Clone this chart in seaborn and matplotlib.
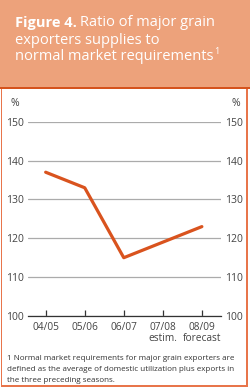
import matplotlib
matplotlib.use("Agg")
import matplotlib.pyplot as plt
import seaborn as sns
import pandas as pd
from matplotlib.patches import Rectangle

sns.set_theme(style="white")
plt.rcParams['font.family'] = ['Open Sans', 'DejaVu Sans']

seasons = ["04/05", "05/06", "06/07", "07/08\nestim.", "08/09\nforecast"]
ratio = [137, 133, 115, 119, 123]
yticks = [100, 110, 120, 130, 140, 150]

df = pd.DataFrame({"season": seasons, "ratio": ratio})

W, H = 250, 389
fig = plt.figure(figsize=(W / 100, H / 100), dpi=100)
fig.patch.set_facecolor("white")

def fy(py):
    return 1 - py / H

def fx(px):
    return px / W

# header
fig.patches.append(Rectangle((0, fy(86.7)), 1, 86.7 / H, transform=fig.transFigure,
                             facecolor="#EDA27B", edgecolor="none", zorder=0))
fig.patches.append(Rectangle((0, fy(89.3)), 1, 2.6 / H, transform=fig.transFigure,
                             facecolor="#D5531D", edgecolor="none", zorder=1))
# border
border = "#E8754B"
fig.patches.append(Rectangle((fx(0.5), fy(387)), 1.6 / W, (387 - 89) / H, transform=fig.transFigure,
                             facecolor=border, edgecolor="none", zorder=1))
fig.patches.append(Rectangle((fx(246), fy(387)), 2.2 / W, (387 - 89) / H, transform=fig.transFigure,
                             facecolor=border, edgecolor="none", zorder=1))
fig.patches.append(Rectangle((fx(0.5), fy(387)), 247.7 / W, 2.3 / H, transform=fig.transFigure,
                             facecolor=border, edgecolor="none", zorder=1))

# title
renderer = fig.canvas.get_renderer()
t1 = fig.text(fx(15), fy(23), "Figure 4.", color="white", fontsize=10.5, fontweight="bold",
              va="center", ha="left")
bb = t1.get_window_extent(renderer=renderer)
fig.text(bb.x1 / W + 3.5 / W, fy(23), "Ratio of major grain", color="white", fontsize=10.5,
         va="center", ha="left")
fig.text(fx(15), fy(40), "exporters supplies to", color="white", fontsize=10.5, va="center", ha="left")
t3 = fig.text(fx(15), fy(57), "normal market requirements", color="white", fontsize=10.5,
              va="center", ha="left")
bb3 = t3.get_window_extent(renderer=renderer)
fig.text(bb3.x1 / W + 0.5 / W, fy(52), "1", color="white", fontsize=6.5, va="center", ha="left")

# axes
x0, x1 = 27.7, 221
ytop, ybot = 121.7, 316
ax = fig.add_axes([fx(x0), fy(ybot), (x1 - x0) / W, (ybot - ytop) / H])
ax.set_facecolor("none")

sns.lineplot(data=df, x="season", y="ratio", ax=ax, color="#D9531E", linewidth=2.3,
             sort=False, zorder=3)
ax.set_xlim(-0.46, 4.49)
ax.set_ylim(100, 150)
ax.set_yticks(yticks)
ax.set_yticklabels([str(v) for v in yticks])
ax.yaxis.grid(True, color="#ABABAB", linewidth=0.9)
ax.xaxis.grid(False)
for s in ["top", "left", "right"]:
    ax.spines[s].set_visible(False)
ax.spines["bottom"].set_color("#333333")
ax.spines["bottom"].set_linewidth(0.9)
ax.set_xlabel("")
ax.set_ylabel("")
ax.tick_params(axis="y", length=0, pad=3, labelsize=7.5, labelcolor="#444444",
               labelleft=True, labelright=True, left=False, right=False)
ax.tick_params(axis="x", direction="in", length=4, width=0.9, color="#333333", pad=4,
               labelsize=7.3, labelcolor="#444444", bottom=True)
for lab in ax.get_xticklabels():
    lab.set_linespacing(1.0)

fig.text(fx(15), fy(104), "%", fontsize=7.5, color="#444444", ha="center", va="center")
fig.text(fx(236), fy(104), "%", fontsize=7.5, color="#444444", ha="center", va="center")

# footnote
foot = ["1 Normal market requirements for major grain exporters are",
        "defined as the average of domestic utilization plus exports in",
        "the three preceding seasons."]
for i, line in enumerate(foot):
    fig.text(fx(7), fy(359 + i * 10.5), line, fontsize=5.75, color="#333333", ha="left", va="center")

fig.savefig("out.png", dpi=100)
